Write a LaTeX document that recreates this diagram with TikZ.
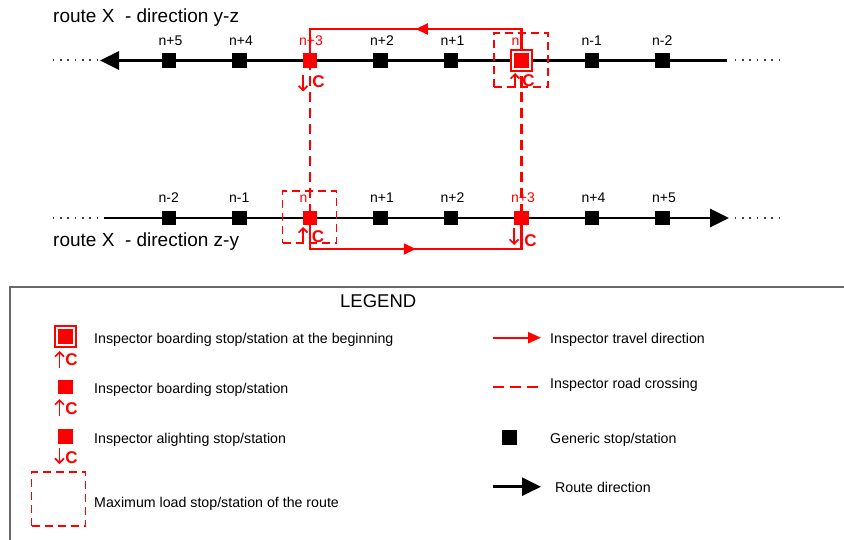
\documentclass[tikz,border=0pt]{standalone}
\usepackage{fontspec}
\setmainfont{Liberation Sans}
\usetikzlibrary{arrows.meta,decorations.markings}
\pgfdeclarelayer{bg}
\pgfsetlayers{bg,main}
\definecolor{rd}{RGB}{255,0,0}
\definecolor{framegray}{RGB}{105,105,105}
\begin{document}
\begin{tikzpicture}[x=1pt,y=-1pt,
  stopk/.style={rectangle, fill=black, minimum size=14.5pt, inner sep=0pt},
  stopr/.style={rectangle, fill=rd, minimum size=14.5pt, inner sep=0pt},
  firstbox/.style={rectangle, draw=rd, fill=white, line width=2.2pt, minimum size=21pt, inner sep=0pt},
  maxbox/.style={rectangle, draw=rd, dash pattern=on 8pt off 5pt, line width=1.9pt, minimum width=54pt, minimum height=54pt, inner sep=0pt},
  stoplbl/.style={font=\fontsize{14}{16}\selectfont, inner sep=0pt, anchor=base west},
  clbl/.style={text=rd, font=\fontsize{17}{18}\selectfont\bfseries, inner sep=0pt},
  title/.style={font=\fontsize{19}{21}\selectfont, inner sep=0pt, anchor=base west},
  legtext/.style={font=\fontsize{14.2}{16}\selectfont, inner sep=0pt, anchor=base west},
  route/.style={line width=2.8pt, -{Triangle[length=19pt,width=18pt]}},
  travel/.style={draw=rd, line width=2.2pt, postaction=decorate,
    decoration={markings, mark=at position 0.5 with {\arrow{Triangle[length=12pt,width=11pt]}}}},
  crossing/.style={draw=rd, line width=2.1pt, dash pattern=on 10pt off 6pt},
  updown/.style={draw=rd, line width=1.7pt, -{Straight Barb[length=4.5pt,width=9pt]}},
  dotmark/.style={fill=black!75},
]
\useasboundingbox (0,0) rectangle (844,540);

% ---------- titles ----------
\node[title] (title1) at (53,23) {route X\ \ - direction y-z};
\node[title] (title2) at (53,247) {route X\ \ - direction z-y};

% ---------- top route (direction y-z) ----------
\def\ty{60.5}
\node[stopk] (t5) at (169,\ty) {};
\node[stopk] (t4) at (239.5,\ty) {};
\node[stopr] (t3) at (310,\ty) {};
\node[stopk] (t2) at (380.5,\ty) {};
\node[stopk] (t1) at (451,\ty) {};
\node[firstbox] (tnbox) at (521.5,\ty) {};
\node[stopr] (tn) at (521.5,\ty) {};
\node[stopk] (tm1) at (592,\ty) {};
\node[stopk] (tm2) at (662.5,\ty) {};
\node[maxbox] (tmax) at (521,60) {};

\node[stoplbl] (lt5) at (158.5,46) {n+5};
\node[stoplbl] (lt4) at (229,46) {n+4};
\node[stoplbl,text=rd] (lt3) at (299,46) {n+3};
\node[stoplbl] (lt2) at (370,46) {n+2};
\node[stoplbl] (lt1) at (440.5,46) {n+1};
\node[stoplbl,text=rd] (ltn) at (511.5,46) {n};
\node[stoplbl] (ltm1) at (581.5,46) {n-1};
\node[stoplbl] (ltm2) at (652,46) {n-2};

\coordinate (trs) at (727,\ty);
\coordinate (tre) at (100,\ty);

% ---------- bottom route (direction z-y) ----------
\def\by{218}
\node[stopk] (bm2) at (169,\by) {};
\node[stopk] (bm1) at (239.5,\by) {};
\node[stopr] (bn) at (310,\by) {};
\node[stopk] (b1) at (380.5,\by) {};
\node[stopk] (b2) at (451,\by) {};
\node[stopr] (b3) at (521.5,\by) {};
\node[stopk] (b4) at (592,\by) {};
\node[stopk] (b5) at (662.5,\by) {};
\node[maxbox, minimum height=52pt] (bmax) at (309.5,217) {};

\node[stoplbl] (lbm2) at (158.5,203) {n-2};
\node[stoplbl] (lbm1) at (229,203) {n-1};
\node[stoplbl,text=rd] (lbn) at (299.5,203) {n};
\node[stoplbl] (lb1) at (370,203) {n+1};
\node[stoplbl] (lb2) at (440.5,203) {n+2};
\node[stoplbl,text=rd] (lb3) at (511,203) {n+3};
\node[stoplbl] (lb4) at (581.5,203) {n+4};
\node[stoplbl] (lb5) at (652,203) {n+5};

\coordinate (brs) at (104,\by);
\coordinate (bre) at (729,\by);

% ---------- C labels ----------
\node[clbl] (ct3) at (318.5,82) {C};
\node[clbl] (ctn) at (528.5,81) {C};
\node[clbl] (cbn) at (318,236.5) {C};
\node[clbl] (cb3) at (530.5,240.5) {C};

\coordinate (topy) at (0,29);
\coordinate (boty) at (0,249);

\begin{pgfonlayer}{bg}
  % dotted continuations
  \foreach \i in {0,...,6} {
    \fill[dotmark] ({53.5+7.3*\i-0.8},\ty-1) rectangle ++(1.6,2);
    \fill[dotmark] ({735.5+7.3*\i-0.8},\ty-1) rectangle ++(1.6,2);
    \fill[dotmark] ({53.5+7.3*\i-0.8},\by-1) rectangle ++(1.6,2);
    \fill[dotmark] ({735.5+7.3*\i-0.8},\by-1) rectangle ++(1.6,2);
  }
  % routes
  \draw[route] (trs) -- (tre);
  \draw[route] (brs) -- (bre);
  % road crossings
  \draw[crossing] (t3.center) -- (bn.center);
  \draw[crossing] (tn.center) -- (b3.center);
  % inspector travel
  \draw[travel] (tn.center) -- (tn.center |- topy) -| (t3.center);
  \draw[travel] (bn.center) -- (bn.center |- boty) -| (b3.center);
\end{pgfonlayer}

% boarding / alighting arrows
\draw[updown] (303,75) -- (303,91.5);
\draw[updown] (515,88) -- (515,73);
\draw[updown] (303,243.5) -- (303,227);
\draw[updown] (514,228) -- (514,245);

% ---------- legend ----------
\draw[framegray, line width=1.2pt] (850,287) -- (10,287) -- (10,546);
\node[font=\fontsize{18.5}{20}\selectfont, inner sep=0pt, anchor=base west] (legtitle) at (340,308) {LEGEND};

% left column
\node[firstbox] (lg1box) at (65.5,336.5) {};
\node[stopr] (lg1) at (65.5,336.5) {};
\draw[updown] (59.5,367.5) -- (59.5,351);
\node[clbl] (lgc1) at (71.5,359.5) {C};
\node[legtext] (lgt1) at (94,343) {Inspector boarding stop/station at the beginning};

\node[stopr] (lg2) at (65.5,387) {};
\draw[updown] (59.5,416) -- (59.5,399);
\node[clbl] (lgc2) at (71.5,408.5) {C};
\node[legtext] (lgt2) at (94,393) {Inspector boarding stop/station};

\node[stopr] (lg3) at (65.5,436.5) {};
\draw[updown] (59.5,447.5) -- (59.5,464);
\node[clbl] (lgc3) at (71.5,457.5) {C};
\node[legtext] (lgt3) at (94,443) {Inspector alighting stop/station};

\node[maxbox] (lg4) at (58.5,499) {};
\node[legtext] (lgt4) at (94,507) {Maximum load stop/station of the route};

% right column
\coordinate (ra1) at (493,337.7);
\coordinate (ra2) at (541,337.7);
\draw[rd, line width=2.2pt, -{Triangle[length=13pt,width=11pt]}] (ra1) -- (ra2);
\node[legtext] (rgt1) at (550,343) {Inspector travel direction};

\coordinate (rc1) at (493,386.7);
\coordinate (rc2) at (539,386.7);
\draw[rd, line width=2.2pt, dash pattern=on 11pt off 6pt] (rc1) -- (rc2);
\node[legtext] (rgt2) at (550,388) {Inspector road crossing};

\node[stopk, minimum size=15pt] (rg3) at (509,437.5) {};
\node[legtext] (rgt3) at (550,443) {Generic stop/station};

\coordinate (rr1) at (493,486.7);
\coordinate (rr2) at (541,486.7);
\draw[route] (rr1) -- (rr2);
\node[legtext] (rgt4) at (555,492) {Route direction};
\end{tikzpicture}
\end{document}
